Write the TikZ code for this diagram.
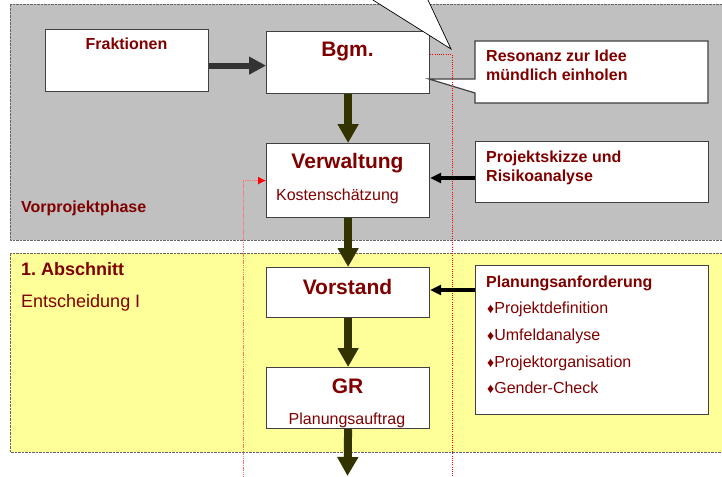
\documentclass[tikz,border=0pt]{standalone}
\usepackage{fontspec}
\setmainfont{Liberation Sans}
\usetikzlibrary{arrows.meta}
\definecolor{dred}{HTML}{800000}
\definecolor{grayreg}{HTML}{C0C0C0}
\definecolor{yelreg}{HTML}{FFFF99}
\definecolor{olive}{HTML}{333300}
\definecolor{darkarr}{HTML}{333333}
\frenchspacing
\tikzset{
  box/.style={draw=black!75, fill=white, line width=1.2pt, inner sep=0pt, anchor=north west},
  region/.style={draw=black!60, line width=0.7pt, dash pattern=on 0.7pt off 0.7pt},
  varrow/.style={olive, line width=8pt, -{Triangle[length=19pt,width=20pt]}},
  harrow/.style={darkarr, line width=6pt, -{Triangle[length=17pt,width=17pt]}},
  karrow/.style={black, line width=3.5pt, -{Triangle[length=11pt,width=10pt]}},
  reddot/.style={red, line width=1pt, dash pattern=on 1pt off 1.2pt},
  pinkdot/.style={red!55, line width=0.9pt, dash pattern=on 1.5pt off 0.8pt},
  bigt/.style={text=dred, font=\fontsize{21}{24}\selectfont\bfseries, inner sep=0pt, anchor=base},
  midt/.style={text=dred, font=\fontsize{16}{19}\selectfont\bfseries, inner sep=0pt},
  regt/.style={text=dred, font=\fontsize{16}{19}\selectfont, inner sep=0pt},
  secb/.style={text=dred, font=\fontsize{18}{21}\selectfont\bfseries, inner sep=0pt, anchor=base west},
  secr/.style={text=dred, font=\fontsize{18}{21}\selectfont, inner sep=0pt, anchor=base west},
}
\newcommand{\dia}{{\fontsize{14}{14}\selectfont ♦}}
\begin{document}
\begin{tikzpicture}[x=1pt,y=-1pt]
\useasboundingbox (0,0) rectangle (722,476);
\clip (0,0) rectangle (722,476);
\fill[white] (0,0) rectangle (722,476);
% regions
\fill[grayreg] (10,4) rectangle (740,240);
\draw[region] (740,4) -- (10,4) -- (10,240) -- (740,240);
\fill[yelreg] (10,253) rectangle (740,452);
\draw[region] (740,253) -- (10,253) -- (10,452) -- (740,452);
% boxes
\node[box, minimum width=163, minimum height=62] (frak) at (45,29) {};
\node[box, minimum width=163, minimum height=62] (bgm) at (266,31) {};
\node[box, minimum width=163, minimum height=74] (verw) at (266,143) {};
\node[box, minimum width=163, minimum height=50] (vorst) at (266,267) {};
\node[box, minimum width=163, minimum height=61] (gr) at (266,367) {};
\node[box, minimum width=233, minimum height=61] (proj) at (475,141) {};
\node[box, minimum width=233, minimum height=149] (plan) at (475,265) {};
% callout Resonanz
\draw[draw=black!75, fill=white, line width=1.2pt, line join=miter]
  (475,41) -- (708,41) -- (708,103) -- (475,103) -- (475,93) -- (429,79) -- (475,79) -- cycle;
% top callout wedge
\draw[fill=white, line width=0.7pt] (357,-10) -- (451,49) -- (423.3,-10);
% red dotted lines
\coordinate (rbot) at (452,480);
\coordinate (lbot) at (243,480);
\draw[reddot] ([yshift=-24pt]bgm.north east) -| (rbot);
\draw[pinkdot] (lbot) |- ([xshift=-6pt]verw.west);
\draw[red, -{Latex[length=8pt,width=8pt]}, line width=0.9pt] ([xshift=-8pt]verw.west) -- (verw.west);
% arrows
\coordinate (grend) at (347.5,476);
\draw[harrow] ([yshift=-5pt]frak.east) -- ([yshift=-5pt]frak.east -| bgm.west);
\draw[varrow] (bgm.south) -- (verw.north);
\draw[varrow] (verw.south) -- (vorst.north);
\draw[varrow] (vorst.south) -- (gr.north);
\draw[varrow] (gr.south) -- (grend);
\draw[karrow] ([yshift=-37pt]proj.north west) -- ([yshift=-37pt]proj.north west -| verw.east);
\draw[karrow] ([yshift=-25pt]plan.north west) -- ([yshift=-25pt]plan.north west -| vorst.east);
% texts
\node[midt, anchor=base] (tfrak) at (126.5,50) {Fraktionen};
\node[bigt] (tbgm) at (347.5,57) {Bgm.};
\node[bigt] (tverw) at (347.5,168) {Verwaltung};
\node[regt, anchor=base] (tkost) at (337.5,200) {Kostenschätzung};
\node[bigt] (tvorst) at (347.5,294) {Vorstand};
\node[bigt] (tgr) at (347.5,393) {GR};
\node[regt, anchor=base] (tplanauf) at (347,424) {Planungsauftrag};
\node[midt, anchor=base west] (tvor) at (21,212) {Vorprojektphase};
\node[secb] (tabs) at (21,275) {1. Abschnitt};
\node[secr] (tent) at (21,307) {Entscheidung I};
\node[midt, anchor=base west] (tres1) at (486,62) {Resonanz zur Idee};
\node[midt, anchor=base west] (tres2) at (486,81) {mündlich einholen};
\node[midt, anchor=base west] (tproj1) at (486,162) {Projektskizze und};
\node[midt, anchor=base west] (tproj2) at (486,181) {Risikoanalyse};
\node[midt, anchor=base west] (tplan) at (486,287) {Planungsanforderung};
\node[regt, anchor=base west] (ti1) at (487,313) {\dia Projektdefinition};
\node[regt, anchor=base west] (ti2) at (487,340) {\dia Umfeldanalyse};
\node[regt, anchor=base west] (ti3) at (487,367) {\dia Projektorganisation};
\node[regt, anchor=base west] (ti4) at (487,393) {\dia Gender-Check};
\end{tikzpicture}
\end{document}
